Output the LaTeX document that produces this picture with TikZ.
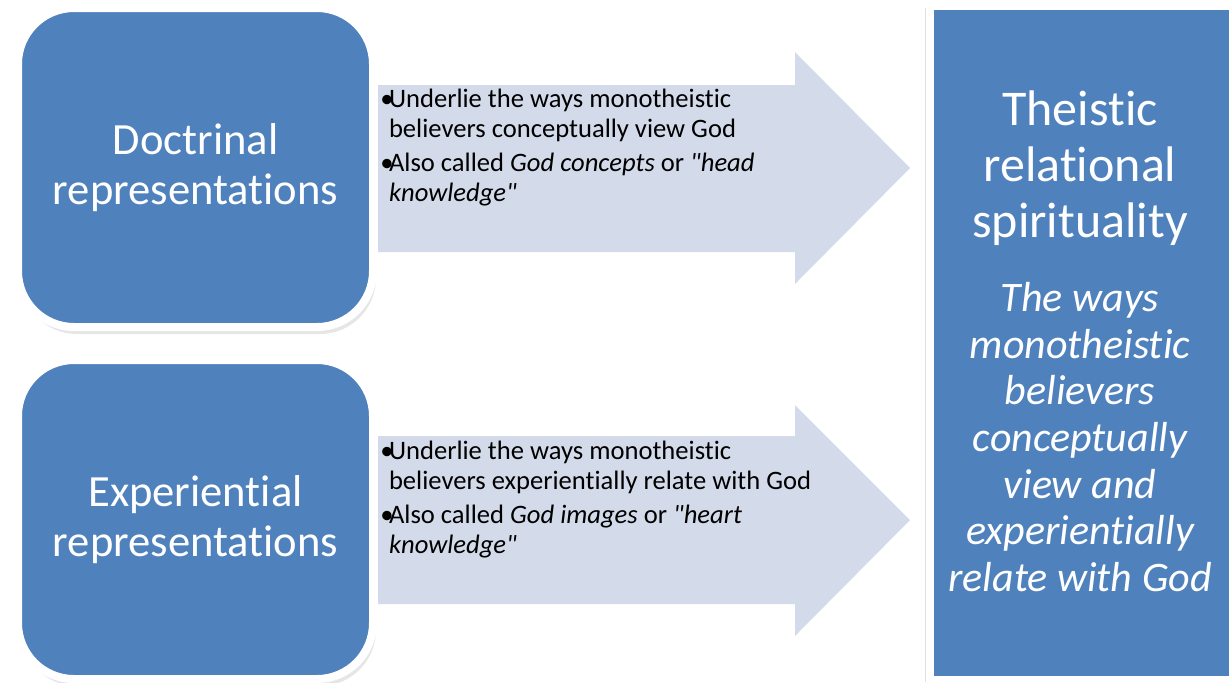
\documentclass[tikz,border=0pt]{standalone}
\usepackage{fontspec}
\setmainfont{Carlito}[Ligatures={NoCommon,NoContextual}]
\usetikzlibrary{shadows}
\definecolor{boxblue}{RGB}{79,129,189}
\definecolor{flowfill}{RGB}{211,218,233}
\tikzset{
  repbox/.style={draw=white, line width=4pt, fill=boxblue, rounded corners=28pt,
    minimum width=177.5pt, minimum height=159.5pt, text=white, align=center,
    font=\fontsize{22.3}{25}\selectfont,
    drop shadow={shadow xshift=1.5pt, shadow yshift=-3.5pt, opacity=.2}},
  panel/.style={draw=white, line width=4pt, fill=boxblue,
    minimum width=155pt, minimum height=337pt,
    drop shadow={shadow xshift=-2.5pt, shadow yshift=-1pt, opacity=.25}},
  flow/.style={fill=flowfill},
  note/.style={anchor=north west, inner sep=0pt, align=left,
    font=\fontsize{13.3}{15}\selectfont},
}
\newcommand{\bul}{\makebox[4.3pt][l]{\textbullet}}
\newcommand{\hang}{\hspace*{4.3pt}}
\begin{document}
\begin{tikzpicture}[x=0.5pt,y=-0.5pt]
  \useasboundingbox (0,0) rectangle (1229,682);
  % block arrows
  \fill[flow] (378,85) -- (795,85) -- (795,52) -- (910,168)
    -- (795,284) -- (795,252) -- (378,252) -- cycle;
  \fill[flow] (378,436) -- (795,436) -- (795,405) -- (910,520)
    -- (795,636) -- (795,604) -- (378,604) -- cycle;
  \draw
    (195.5,167.5) node[repbox] (doc) {Doctrinal\\representations}
    (195.5,519.5) node[repbox] (exp) {Experiential\\representations}
    (1085,343) node[panel] (trs) {};
  \node[note] (docnote) at (380,89)
    {\bul Underlie the ways monotheistic\\
     \hang believers conceptually view God\\[2pt]
     \bul Also called \textit{God concepts} or \textit{\textquotedbl head}\\
     \hang\textit{knowledge\textquotedbl}};
  \node[note] (expnote) at (380,441)
    {\bul Underlie the ways monotheistic\\
     \hang believers experientially relate with God\\[2pt]
     \bul Also called \textit{God images} or \textit{\textquotedbl heart}\\
     \hang\textit{knowledge\textquotedbl}};
  \node[text=white, align=center, font=\fontsize{25}{28}\selectfont] (trstitle)
    at (1080,168) {Theistic\\relational\\spirituality};
  \node[text=white, align=center, font=\fontsize{21}{23.3}\selectfont\itshape] (trsdesc)
    at (1080,437) {The ways\\monotheistic\\believers\\conceptually\\view and\\experientially\\relate with God};
\end{tikzpicture}
\end{document}
